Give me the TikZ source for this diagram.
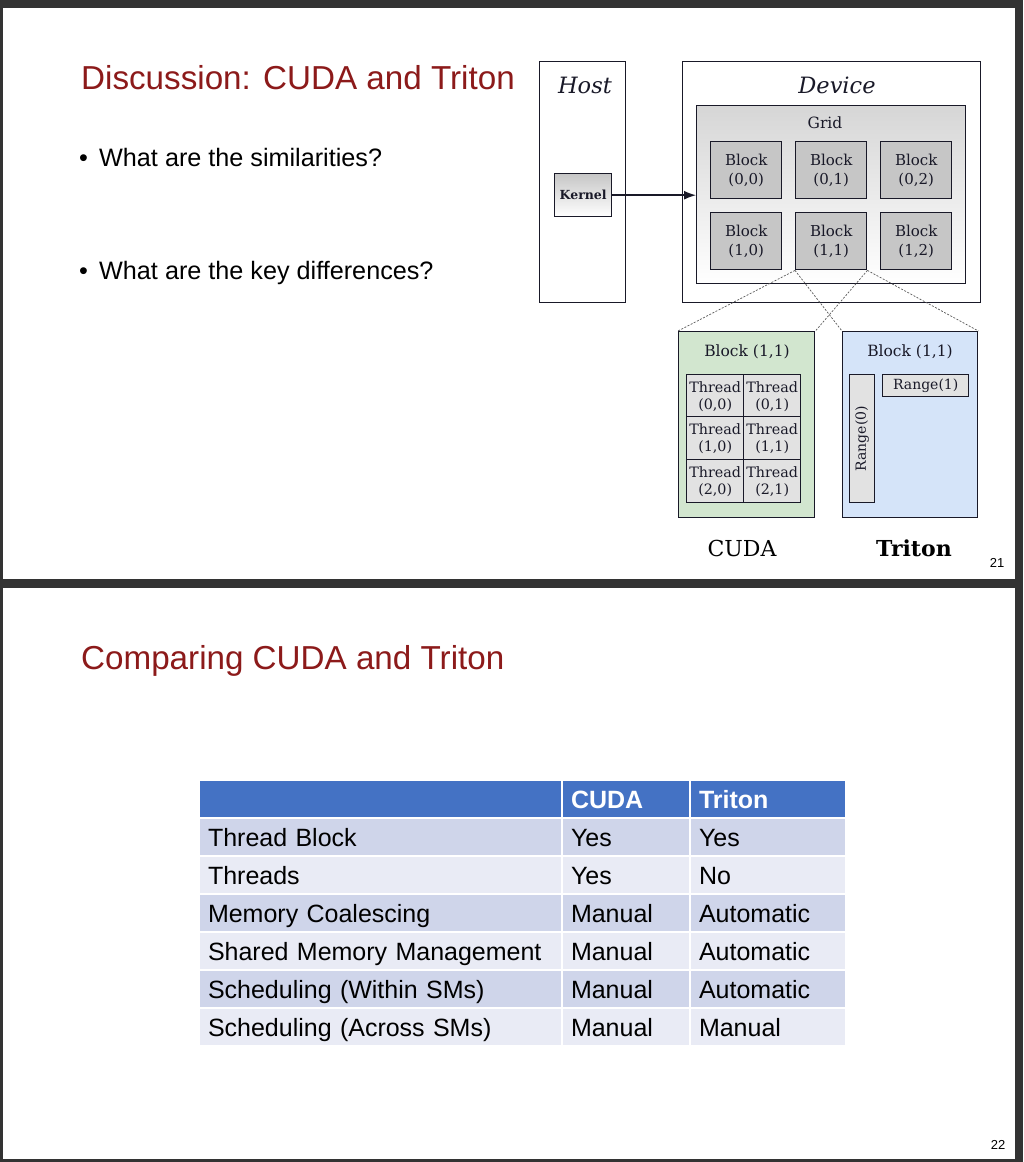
\documentclass[tikz,border=0pt]{standalone}
\usepackage{fontspec}
\setmainfont{Liberation Sans}
\newfontfamily\figfont{DejaVu Serif}
\usepackage{xcolor}
\usetikzlibrary{arrows.meta}

\definecolor{framegray}{RGB}{51,51,51}
\definecolor{titlered}{RGB}{140,26,26}
\definecolor{hdrblue}{RGB}{68,114,196}
\definecolor{rowdark}{RGB}{207,213,234}
\definecolor{rowlight}{RGB}{233,235,245}
\definecolor{figink}{RGB}{25,25,40}
\definecolor{blockgray}{RGB}{198,198,198}
\definecolor{gridtop}{RGB}{214,214,214}
\definecolor{cudagreen}{RGB}{210,230,207}
\definecolor{tritonblue}{RGB}{213,228,249}
\definecolor{cellgray}{RGB}{226,226,226}

\tikzset{
  slidetitle/.style={anchor=base west, inner sep=0pt, text=titlered, font=\fontsize{33.2}{40}\selectfont},
  bullettext/.style={anchor=base west, inner sep=0pt, font=\fontsize{25.2}{30}\selectfont},
  pagenum/.style={inner sep=0pt, font=\fontsize{13}{15}\selectfont},
  box/.style={draw=figink, line width=1.4pt, anchor=north west, inner sep=0pt, align=center, text=figink},
  blk/.style={box, fill=blockgray, minimum width=71pt, minimum height=57pt, font=\figfont\fontsize{15}{19}\selectfont},
  thr/.style={box, fill=cellgray, minimum width=57pt, minimum height=43pt, font=\figfont\fontsize{14.3}{17}\selectfont},
  hostlbl/.style={text=figink, inner sep=0pt, font=\figfont\itshape\fontsize{22.5}{26}\selectfont},
  figlbl/.style={text=figink, inner sep=0pt, font=\figfont\fontsize{15.5}{18}\selectfont},
  caption/.style={text=black, inner sep=0pt, font=\figfont\fontsize{22}{26}\selectfont},
  link/.style={draw=black!65, line width=0.7pt, dash pattern=on 2pt off 1.5pt},
  cell/.style={anchor=north west, draw=white, line width=2pt, inner xsep=9pt, minimum height=38pt,
    text height=18pt, text depth=0pt, align=left, font=\fontsize{25}{30}\selectfont},
  cola/.style={cell, text width=345pt},
  colb/.style={cell, text width=110pt},
  colc/.style={cell, text width=138pt},
  hdr/.style={fill=hdrblue, text=white, font=\bfseries\fontsize{25}{30}\selectfont},
}

\begin{document}
\begin{tikzpicture}[x=1pt,y=-1pt,>={Latex[length=12pt,width=9pt]}]
  %slides
  \fill[framegray] (0,0) rectangle (1023,1162);
  \fill[white] (3,8) rectangle (1015,579);
  \fill[white] (3,588) rectangle (1015,1159);
  \useasboundingbox (0,0) rectangle (1023,1162);

  %slide 21
  \node[slidetitle] (title1) at (81,89) {Discussion: CUDA and Triton};
  \node[bullettext] (q1) at (79,166) {\makebox[20pt][l]{\textbullet}What are the similarities?};
  \node[bullettext] (q2) at (79,279) {\makebox[20pt][l]{\textbullet}What are the key differences?};

  \node[box, minimum width=86pt, minimum height=241pt] (host) at (539,61) {};
  \node[hostlbl] (hostname) at (585,85) {Host};
  \node[box, minimum width=298pt, minimum height=241pt] (device) at (682,61) {};
  \node[hostlbl] (devicename) at (837,85) {Device};
  \node[box, top color=gridtop, bottom color=white, minimum width=269pt, minimum height=178pt] (grid) at (696,105) {};
  \node[figlbl] (gridname) at (825,123) {Grid};

  \node[blk] (b00) at (710,141) {Block\\(0,0)};
  \node[blk] (b01) at (795,141) {Block\\(0,1)};
  \node[blk] (b02) at (880,141) {Block\\(0,2)};
  \node[blk] (b10) at (710,212) {Block\\(1,0)};
  \node[blk] (b11) at (795,212) {Block\\(1,1)};
  \node[blk] (b12) at (880,212) {Block\\(1,2)};

  \node[box, top color=blockgray, bottom color=white, minimum width=57pt, minimum height=43pt,
        font=\figfont\bfseries\fontsize{12.5}{15}\selectfont] (kernel) at (554,173) {Kernel};
  \draw[->, line width=1.5pt, figink] (kernel.east) -- (kernel.east -| grid.west);

  %zoomed blocks
  \node[box, fill=cudagreen, minimum width=136pt, minimum height=186pt] (cudablk) at (678,331) {};
  \node[figlbl] (cudahead) at (747,352) {Block (1,1)};
  \node[thr] (t00) at (686,374) {Thread\\(0,0)};
  \node[thr] (t01) at (743,374) {Thread\\(0,1)};
  \node[thr] (t10) at (686,416) {Thread\\(1,0)};
  \node[thr] (t11) at (743,416) {Thread\\(1,1)};
  \node[thr] (t20) at (686,459) {Thread\\(2,0)};
  \node[thr] (t21) at (743,459) {Thread\\(2,1)};

  \node[box, fill=tritonblue, minimum width=135pt, minimum height=186pt] (tritonblk) at (842,331) {};
  \node[figlbl] (tritonhead) at (910,352) {Block (1,1)};
  \node[box, fill=cellgray, minimum width=25pt, minimum height=128pt] (range0) at (849,374) {};
  \node[figlbl, rotate=90, font=\figfont\fontsize{14}{16}\selectfont] (range0name) at (range0.center) {Range(0)};
  \node[box, fill=cellgray, minimum width=86pt, minimum height=22pt, font=\figfont\fontsize{14}{16}\selectfont] (range1) at (882,374) {Range(1)};

  \draw[link] (b11.south west) -- (cudablk.north west);
  \draw[link] (b11.south west) -- (tritonblk.north west);
  \draw[link] (b11.south east) -- (cudablk.north east);
  \draw[link] (b11.south east) -- (tritonblk.north east);

  \node[caption] (cudacap) at (742,548) {CUDA};
  \node[caption, font=\figfont\bfseries\fontsize{22}{26}\selectfont] (tritoncap) at (914,548) {Triton};
  \node[pagenum] (pg21) at (997,563) {21};

  %slide 22
  \node[slidetitle] (title2) at (81,669) {Comparing CUDA and Triton};

  \node[cola, hdr] (h0) at (198,779) {};
  \node[colb, hdr] (h1) at (561,779) {CUDA};
  \node[colc, hdr] (h2) at (689,779) {Triton};

  \node[cola, fill=rowdark] (r1a) at (198,817) {Thread Block};
  \node[colb, fill=rowdark] (r1b) at (561,817) {Yes};
  \node[colc, fill=rowdark] (r1c) at (689,817) {Yes};

  \node[cola, fill=rowlight] (r2a) at (198,855) {Threads};
  \node[colb, fill=rowlight] (r2b) at (561,855) {Yes};
  \node[colc, fill=rowlight] (r2c) at (689,855) {No};

  \node[cola, fill=rowdark] (r3a) at (198,893) {Memory Coalescing};
  \node[colb, fill=rowdark] (r3b) at (561,893) {Manual};
  \node[colc, fill=rowdark] (r3c) at (689,893) {Automatic};

  \node[cola, fill=rowlight] (r4a) at (198,931) {Shared Memory Management};
  \node[colb, fill=rowlight] (r4b) at (561,931) {Manual};
  \node[colc, fill=rowlight] (r4c) at (689,931) {Automatic};

  \node[cola, fill=rowdark] (r5a) at (198,969) {Scheduling (Within SMs)};
  \node[colb, fill=rowdark] (r5b) at (561,969) {Manual};
  \node[colc, fill=rowdark] (r5c) at (689,969) {Automatic};

  \node[cola, fill=rowlight] (r6a) at (198,1007) {Scheduling (Across SMs)};
  \node[colb, fill=rowlight] (r6b) at (561,1007) {Manual};
  \node[colc, fill=rowlight] (r6c) at (689,1007) {Manual};

  \node[pagenum] (pg22) at (998,1145) {22};
\end{tikzpicture}
\end{document}
